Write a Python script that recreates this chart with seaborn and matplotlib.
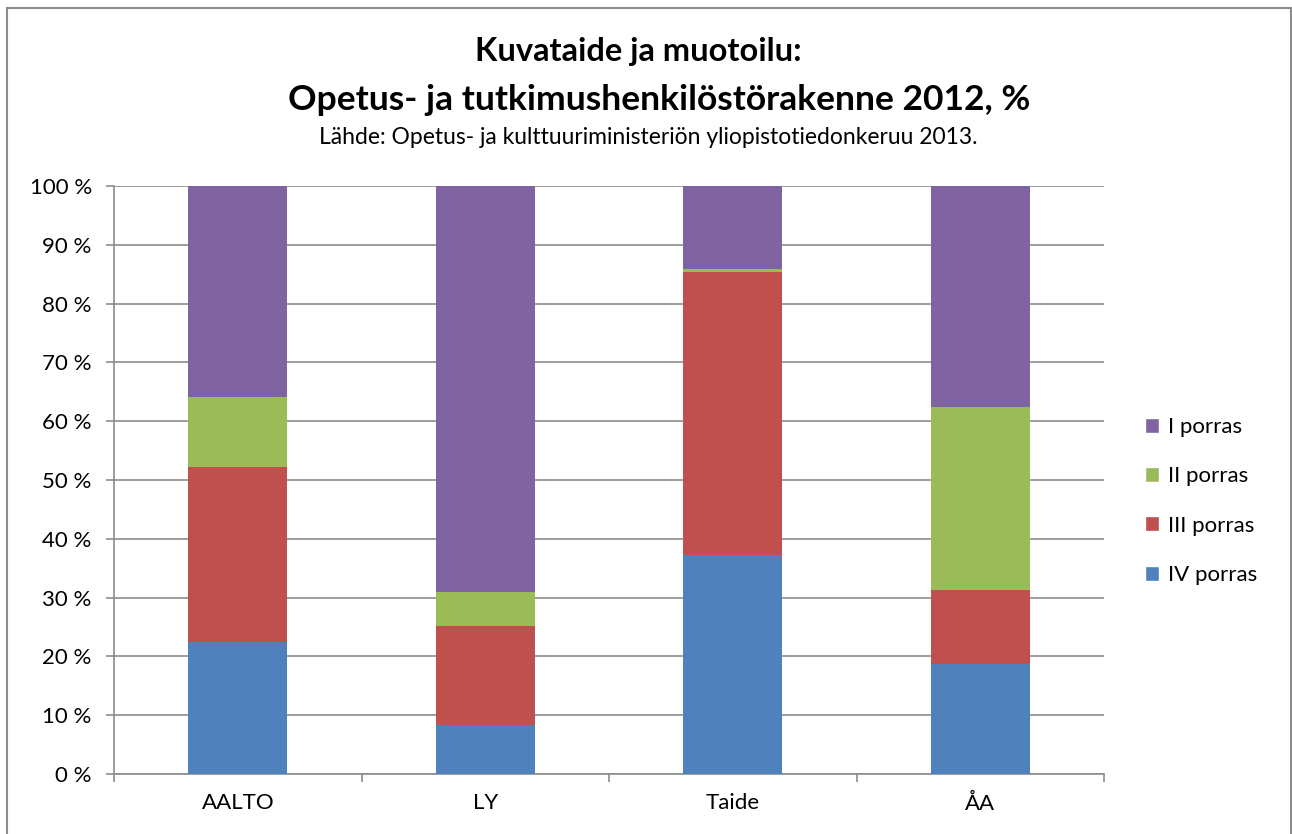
import matplotlib
matplotlib.use("Agg")
import matplotlib.pyplot as plt
import seaborn as sns
import pandas as pd
import numpy as np
from matplotlib.patches import Rectangle, Patch
from matplotlib.ticker import FixedLocator

categories = ["AALTO", "LY", "Taide", "ÅA"]
series_names = ["IV porras", "III porras", "II porras", "I porras"]
iv_porras = [22.4, 8.3, 37.3, 18.75]
iii_porras = [29.8, 16.8, 48.1, 12.5]
ii_porras = [12.0, 5.8, 0.5, 31.25]
i_porras = [35.8, 69.1, 14.1, 37.5]
colors = {"IV porras": "#4F81BD", "III porras": "#C0504D",
          "II porras": "#9BBB59", "I porras": "#8064A2"}
yticks = [0, 10, 20, 30, 40, 50, 60, 70, 80, 90, 100]
ytick_labels = [f"{v} %" for v in yticks]

sns.set_style("white")
plt.rcParams["font.family"] = ["Lato", "DejaVu Sans"]
plt.rcParams["text.color"] = "black"
plt.rcParams["xtick.labelcolor"] = "black"
plt.rcParams["ytick.labelcolor"] = "black"

df = pd.DataFrame({"cat": categories, "IV porras": iv_porras,
                   "III porras": iii_porras, "II porras": ii_porras,
                   "I porras": i_porras})
cum = df[series_names].cumsum(axis=1)

fig = plt.figure(figsize=(12.92, 8.34), dpi=100)
ax = fig.add_axes([114/1292, 60/834, (1104-114)/1292, (774-186)/834])

# draw from top of stack downward so lower layers overlay
for name in reversed(series_names):
    sns.barplot(x=df["cat"], y=cum[name], color=colors[name], width=0.4,
                ax=ax, saturation=1, linewidth=0, zorder=3)

ax.set_ylim(0, 100)
ax.set_xlim(-0.5, 3.5)
ax.set_yticks(yticks)
ax.set_yticklabels(ytick_labels, fontsize=16)
ax.set_xlabel("")
ax.set_ylabel("")
ax.tick_params(axis="x", which="major", length=0, labelsize=16, pad=14)
ax.xaxis.set_minor_locator(FixedLocator([-0.5, 0.5, 1.5, 2.5, 3.5]))
ax.tick_params(axis="x", which="minor", length=6, width=1.2, color="#8c8c8c", direction="out", bottom=True)
ax.tick_params(axis="y", length=6, width=1.2, color="#8c8c8c", direction="out", left=True, pad=10)
ax.grid(axis="y", color="#8c8c8c", linewidth=1.2, zorder=0)
ax.set_axisbelow(True)
for s in ["top", "right"]:
    ax.spines[s].set_visible(False)
for s in ["left", "bottom"]:
    ax.spines[s].set_color("#8c8c8c")
    ax.spines[s].set_linewidth(1.2)

handles = [Patch(facecolor=colors[n], label=n) for n in reversed(series_names)]
fig.legend(handles=handles, loc="center left", bbox_to_anchor=(1125/1292, 1 - 501/834),
           frameon=False, fontsize=16, handlelength=0.65, handleheight=0.65,
           handletextpad=0.4, labelspacing=1.32)

fig.text(638/1292, 1 - 52/834, "Kuvataide ja muotoilu:", ha="center", va="center",
         fontsize=23.5, fontweight="bold")
fig.text(659/1292, 1 - 100/834, "Opetus- ja tutkimushenkilöstörakenne 2012, %", ha="center",
         va="center", fontsize=25.5, fontweight="bold")
fig.text(648/1292, 1 - 137/834, "Lähde: Opetus- ja kulttuuriministeriön yliopistotiedonkeruu 2013.",
         ha="center", va="center", fontsize=16.5)

fig.patches.append(Rectangle((7/1292, -0.01), 1284/1292, 1 - 8/834 + 0.01,
                             transform=fig.transFigure, fill=False,
                             edgecolor="#8c8c8c", linewidth=1.5))

fig.savefig("out.png", dpi=100)
